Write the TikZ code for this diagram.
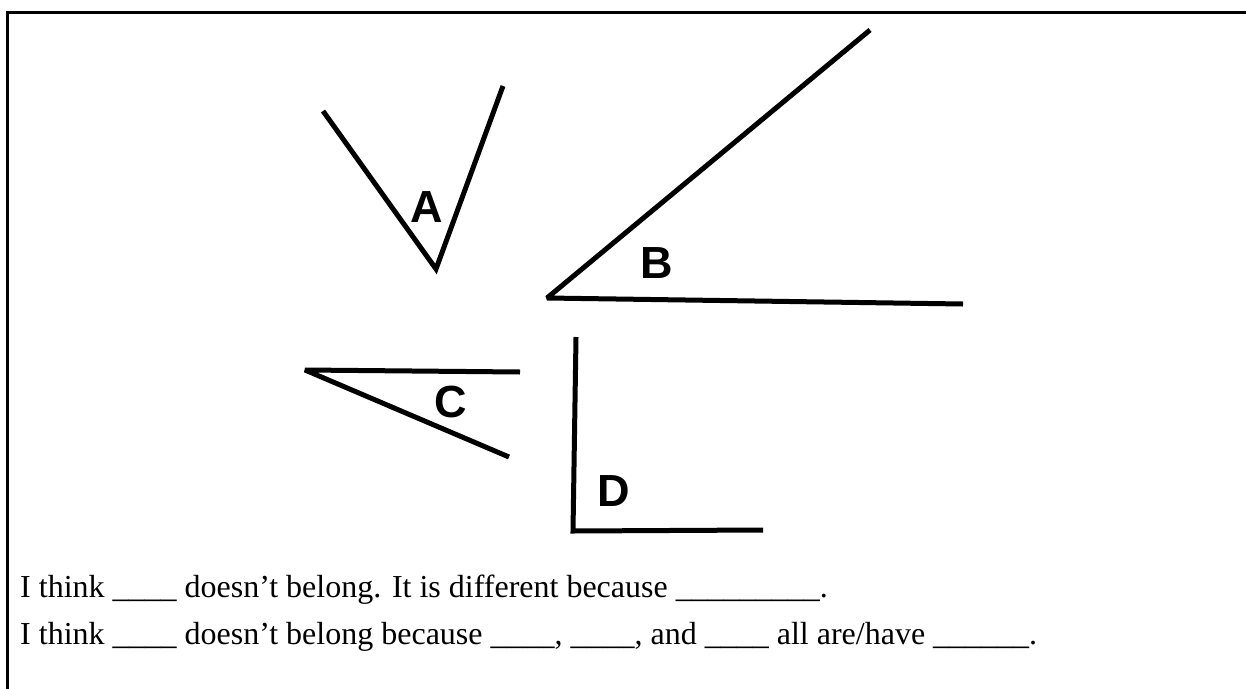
\documentclass[tikz,border=0pt]{standalone}
\usepackage{fontspec}
\setmainfont{Liberation Serif}
\newfontfamily\labelfont{Liberation Sans}
\usetikzlibrary{positioning}

\begin{document}
\begin{tikzpicture}[x=1pt, y=-1pt,
		ray/.style={line width=5pt, black, miter limit=2.5},
		frm/.style={line width=3pt, black},
		lbl/.style={font=\labelfont\bfseries\fontsize{45}{45}\selectfont, inner sep=0pt},
		sent/.style={font=\fontsize{32}{38}\selectfont, anchor=base west, inner sep=0pt}]
		\useasboundingbox (0,0) rectangle (1246,688);
		% frame
		\draw[frm] (7.5,700) -- (7.5,12.5) -- (1260,12.5);
		% angle A
		\coordinate (aL) at (323,111);
		\coordinate (aV) at (436,269);
		\coordinate (aR) at (503,86);
		\draw[ray] (aL) -- (aV) -- (aR);
		\node[lbl] (la) at (427,207) {A};
		% angle B
		\coordinate (bU) at (870,30);
		\coordinate (bV) at (547,298);
		\coordinate (bR) at (963,304);
		\draw[ray] (bU) -- (bV) -- (bR);
		\node[lbl] (lb) at (657,263) {B};
		% angle C
		\coordinate (cU) at (520,372);
		\coordinate (cV) at (305,370);
		\coordinate (cD) at (509,457);
		\draw[ray] (cU) -- (cV) -- (cD);
		\node[lbl] (lc) at (451,402) {C};
		% angle D
		\coordinate (dU) at (576,337);
		\coordinate (dV) at (573,531);
		\coordinate (dR) at (763,530);
		\draw[ray] (dU) -- (dV) -- (dR);
		\node[lbl] (ld) at (614,491) {D};
		% sentences
		\node[sent] (s1) at (20,597) {I think \_\_\_\_ doesn't belong. It is different because \_\_\_\_\_\_\_\_\_.};
		\node[sent] (s2) at (20,644) {I think \_\_\_\_ doesn't belong because \_\_\_\_, \_\_\_\_, and \_\_\_\_ all are/have \_\_\_\_\_\_.};
	\end{tikzpicture}
\end{document}
